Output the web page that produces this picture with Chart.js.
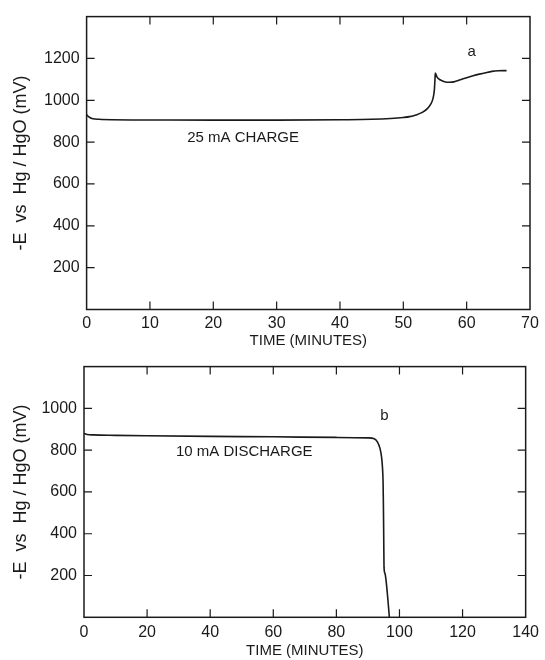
<!DOCTYPE html>
<html lang="en">
<head>
  <meta charset="UTF-8">
  <title>Charge / discharge curves</title>
  <script src="https://cdn.jsdelivr.net/npm/chart.js"></script>
  <style>
    body { margin: 0; background: #fff; }
    #wrap { position: relative; width: 545px; height: 660px; }
    canvas { position: absolute; left: 0; }
    #chartA { top: 0; }
    #chartB { top: 350px; }
  </style>
</head>
<body>
  <div id="wrap">
    <canvas id="chartA" width="545" height="350"></canvas>
    <canvas id="chartB" width="545" height="310"></canvas>
  </div>

  <script>
    // (a) 25 mA charge
    const chargeTime = [0, 0.5, 1, 2, 4, 10, 20, 30, 40, 45, 48, 50, 51, 52, 53, 53.8, 54.3, 54.7, 54.9, 55.0, 55.05,
                        55.3, 55.8, 56.5, 57.3, 58, 59, 60, 61, 62, 63, 64, 65, 66.3];
    const chargeVolt = [930, 918, 912, 909, 907, 906, 905, 905, 907, 909, 913, 918, 922, 930, 942, 960, 980, 1010, 1050, 1100, 1130,
                        1112, 1098, 1089, 1086, 1088, 1098, 1108, 1117, 1125, 1132, 1138, 1141, 1142];
    const chargeXTicks = [0, 10, 20, 30, 40, 50, 60, 70];
    const chargeYTicks = [200, 400, 600, 800, 1000, 1200];

    // (b) 10 mA discharge
    const dischargeTime = [0, 1, 3, 10, 20, 40, 60, 80, 90, 92, 93, 93.8, 94.3, 94.6, 94.8, 94.9, 95.0, 95.1, 95.4, 95.8, 96.3, 96.8];
    const dischargeVolt = [880, 875, 873, 871, 869, 866, 864, 861, 859, 855, 840, 810, 770, 720, 650, 550, 400, 240, 210, 170, 90, 0];
    const dischargeXTicks = [0, 20, 40, 60, 80, 100, 120, 140];
    const dischargeYTicks = [200, 400, 600, 800, 1000];

    const ink = '#1a1a1a';
    const family = "'Liberation Sans', Arial, sans-serif";

    // closed frame, inward tick marks on all four sides, and the text notes
    const framePlugin = {
      id: 'frame',
      afterDraw(chart) {
        const { ctx, chartArea: a, scales: { x, y } } = chart;
        ctx.save();
        ctx.strokeStyle = ink;
        ctx.lineWidth = 1.5;
        ctx.strokeRect(a.left, a.top, a.right - a.left, a.bottom - a.top);

        ctx.lineWidth = 1.2;
        ctx.beginPath();
        x.ticks.forEach(t => {
          if (t.value <= x.min || t.value >= x.max) return;
          const px = x.getPixelForValue(t.value);
          ctx.moveTo(px, a.bottom); ctx.lineTo(px, a.bottom - 8);
          ctx.moveTo(px, a.top); ctx.lineTo(px, a.top + 8);
        });
        y.ticks.forEach(t => {
          if (t.value <= y.min || t.value >= y.max) return;
          const py = y.getPixelForValue(t.value);
          ctx.moveTo(a.left, py); ctx.lineTo(a.left + 8, py);
          ctx.moveTo(a.right, py); ctx.lineTo(a.right - 8, py);
        });
        ctx.stroke();

        ctx.fillStyle = ink;
        ctx.font = '15px ' + family;
        ctx.textAlign = 'center';
        ctx.textBaseline = 'middle';
        chart.options.plugins.frame.notes.forEach(n => {
          ctx.fillText(n.text, x.getPixelForValue(n.x), y.getPixelForValue(n.y));
        });
        ctx.restore();
      }
    };

    function makeChart(id, time, volt, xTicks, yTicks, xMax, yMax, box, notes) {
      return new Chart(document.getElementById(id), {
        type: 'line',
        data: {
          datasets: [{
            data: time.map((t, i) => ({ x: t, y: volt[i] })),
            borderColor: ink,
            borderWidth: 1.6,
            pointRadius: 0,
            cubicInterpolationMode: 'monotone',
            fill: false
          }]
        },
        options: {
          responsive: false,
          animation: false,
          layout: { padding: { top: box.top, right: box.right, left: 0, bottom: 0 } },
          plugins: {
            legend: { display: false },
            tooltip: { enabled: false },
            frame: { notes: notes }
          },
          scales: {
            x: {
              type: 'linear',
              min: 0,
              max: xMax,
              afterBuildTicks: s => { s.ticks = xTicks.map(v => ({ value: v })); },
              afterFit: s => { s.height = box.xHeight; },
              grid: { display: false, drawTicks: false },
              border: { display: false },
              ticks: {
                color: ink, font: { family: family, size: 16 }, padding: box.xPad,
                maxRotation: 0, autoSkip: false, callback: v => String(v)
              },
              title: {
                display: true,
                text: 'TIME (MINUTES)',
                color: ink,
                font: { family: family, size: 15 },
                padding: { top: 0, bottom: 0 }
              }
            },
            y: {
              min: 0,
              max: yMax,
              afterBuildTicks: s => { s.ticks = yTicks.map(v => ({ value: v })); },
              afterFit: s => { s.width = box.yWidth; },
              grid: { display: false, drawTicks: false },
              border: { display: false },
              ticks: {
                color: ink, font: { family: family, size: 16 }, padding: 7,
                autoSkip: false, callback: v => String(v)
              },
              title: {
                display: true,
                text: '-E  vs  Hg / HgO (mV)',
                color: ink,
                font: { family: family, size: 18 },
                padding: { top: 10, bottom: 0 }
              }
            }
          }
        },
        plugins: [framePlugin]
      });
    }

    makeChart('chartA', chargeTime, chargeVolt, chargeXTicks, chargeYTicks, 70, 1400,
      { top: 11.7, right: 15, yWidth: 86.6, xHeight: 40.5, xPad: 4 },
      [{ text: '25 mA CHARGE', x: 24.7, y: 820 }, { text: 'a', x: 60.8, y: 1233 }]);

    makeChart('chartB', dischargeTime, dischargeVolt, dischargeXTicks, dischargeYTicks, 140, 1200,
      { top: 10, right: 15, yWidth: 84, xHeight: 42.7, xPad: 6 },
      [{ text: '10 mA DISCHARGE', x: 50.8, y: 790 }, { text: 'b', x: 95.2, y: 963 }]);
  </script>
</body>
</html>
